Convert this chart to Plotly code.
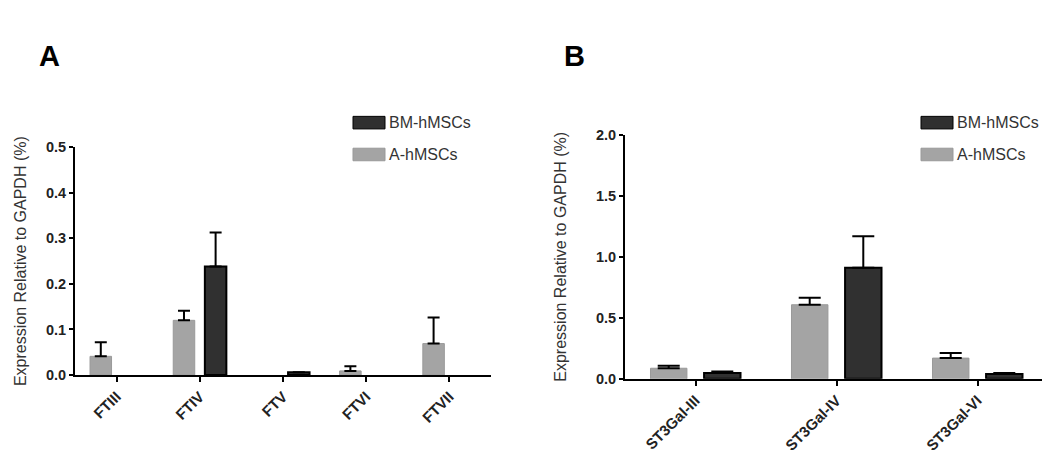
import plotly.graph_objects as go
from plotly.subplots import make_subplots

W, H = 1050, 458

# Panel A: fucosyltransferases
ft_categories = ["FTIII", "FTIV", "FTV", "FTVI", "FTVII"]
ft_a = [0.041, 0.120, None, 0.009, 0.069]
ft_a_err = [0.031, 0.021, 0.0, 0.010, 0.057]
ft_bm = [None, 0.238, 0.006, None, None]
ft_bm_err = [0.0, 0.075, 0.0, 0.0, 0.0]

# Panel B: sialyltransferases
st_categories = ["ST3Gal-III", "ST3Gal-IV", "ST3Gal-VI"]
st_a = [0.087, 0.607, 0.170]
st_a_err = [0.021, 0.058, 0.041]
st_bm = [0.047, 0.910, 0.040]
st_bm_err = [0.013, 0.259, 0.007]

series_names = ["BM-hMSCs", "A-hMSCs"]
GRAY = "#a4a4a4"
DARK = "#303030"
FONT = "Liberation Sans, Arial, sans-serif"


def px_x(x):
    return x / W


def px_y(y):
    return 1 - y / H


fig = make_subplots(rows=1, cols=2)


def add_pair(cats, a_vals, a_err, bm_vals, bm_err, col, cap):
    fig.add_trace(go.Bar(
        x=cats, y=a_vals, name="A-hMSCs", showlegend=False,
        marker=dict(color=GRAY, line=dict(color="#999999", width=1)),
        error_y=dict(type="data", array=a_err, arrayminus=[0] * len(cats),
                     symmetric=False, color="black", thickness=2, width=cap),
    ), row=1, col=col)
    fig.add_trace(go.Bar(
        x=cats, y=bm_vals, name="BM-hMSCs", showlegend=False,
        marker=dict(color=DARK, line=dict(color="black", width=2)),
        error_y=dict(type="data", array=bm_err, arrayminus=[0] * len(cats),
                     symmetric=False, color="black", thickness=2, width=cap),
    ), row=1, col=col)


add_pair(ft_categories, ft_a, ft_a_err, ft_bm, ft_bm_err, 1, 6)
add_pair(st_categories, st_a, st_a_err, st_bm, st_bm_err, 2, 11)

xcommon = dict(
    showline=True, linecolor="black", linewidth=2, ticks="outside",
    ticklen=5, tickwidth=2, tickcolor="black", tickangle=-45,
    tickfont=dict(family=FONT, size=15, color="#222", weight="bold"),
    showgrid=False, zeroline=False,
)
ycommon = dict(
    showline=True, linecolor="black", linewidth=2, ticks="outside",
    ticklen=4, tickwidth=2, tickcolor="black", tickformat=".1f",
    tickfont=dict(family=FONT, size=14.5, color="#222", weight="bold"),
    showgrid=False, zeroline=False,
)
ytitle = "Expression Relative to GAPDH (%)"
title_font = dict(family=FONT, size=16, color="#333")

fig.update_xaxes(xcommon)
fig.update_yaxes(ycommon)
fig.update_layout(
    xaxis=dict(domain=[px_x(67), px_x(483)], range=[-0.5, 4.5]),
    yaxis=dict(domain=[px_y(372), px_y(136)], range=[0, 0.5], dtick=0.1,
               title=dict(text=ytitle, standoff=15, font=title_font)),
    xaxis2=dict(domain=[px_x(617), px_x(1040)], range=[-0.5, 2.5]),
    yaxis2=dict(domain=[px_y(376), px_y(123)], range=[0, 2.0], dtick=0.5,
                title=dict(text=ytitle, standoff=25, font=title_font)),
)

# legend boxes (drawn like the original's swatches)
shapes, annos = [], []
for x0 in (345, 913):
    for i, (name, color, line) in enumerate(((series_names[0], DARK, "black"),
                                             (series_names[1], GRAY, "#999999"))):
        top = 104 + i * 33
        shapes.append(dict(type="rect", xref="paper", yref="paper",
                           x0=px_x(x0), x1=px_x(x0 + 32),
                           y0=px_y(top + 13), y1=px_y(top),
                           fillcolor=color, line=dict(color=line, width=1)))
        annos.append(dict(text=name, xref="paper", yref="paper",
                          x=px_x(x0 + 34), y=px_y(top + 6.5),
                          xanchor="left", yanchor="middle", showarrow=False,
                          font=dict(family=FONT, size=16, color="#333")))

annos.append(dict(text="A", xref="paper", yref="paper", x=px_x(29), y=px_y(23),
                  showarrow=False,
                  font=dict(family=FONT, size=29, color="black", weight="bold")))
annos.append(dict(text="B", xref="paper", yref="paper", x=px_x(566), y=px_y(23),
                  showarrow=False,
                  font=dict(family=FONT, size=29, color="black", weight="bold")))

fig.update_layout(
    width=W, height=H,
    margin=dict(l=0, r=0, t=0, b=0),
    paper_bgcolor="white", plot_bgcolor="white",
    barmode="group", bargap=0.24, bargroupgap=0.32,
    shapes=shapes, annotations=annos,
    showlegend=False,
)

fig.write_html("out.html")
